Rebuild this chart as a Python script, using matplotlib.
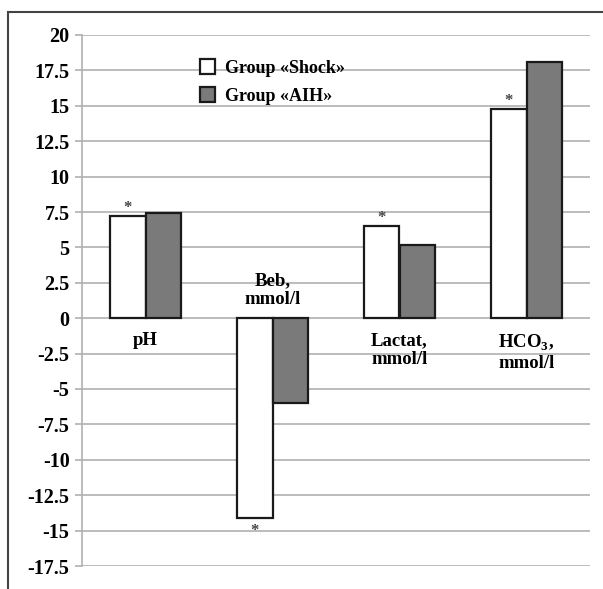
import numpy as np
import matplotlib.pyplot as plt
from matplotlib.patches import Rectangle

categories = ['pH', 'Beb,\nmmol/l', 'Lactat,\nmmol/l', 'HCO$_3$,\nmmol/l']
shock = [7.2, -14.1, 6.5, 14.8]
aih = [7.4, -6.0, 5.2, 18.1]
signif = [True, True, True, True]
yticks = np.arange(-17.5, 20.1, 2.5)

plt.rcParams['font.family'] = ['Liberation Serif', 'DejaVu Serif']
plt.rcParams['font.weight'] = 'bold'
plt.rcParams['mathtext.fontset'] = 'custom'
plt.rcParams['mathtext.rm'] = 'Liberation Serif:bold'

fig = plt.figure(figsize=(6.03, 5.89), dpi=100)
ax = fig.add_axes([82 / 603, 1 - 566 / 589, 508 / 603, 531 / 589])

# outer frame (cropped at right/bottom like the scan)
fig.patches.append(Rectangle((8 / 603, -0.1), 1.2, 1 - 12 / 589 + 0.1,
                             transform=fig.transFigure, fill=False,
                             edgecolor='#444444', linewidth=1.5))

x = np.arange(len(categories))
w = 0.278
ax.bar(x - w / 2, shock, w, color='white', edgecolor='#1a1a1a', linewidth=1.6,
       label='Group «Shock»', zorder=3)
ax.bar(x + w / 2, aih, w, color='#7a7a7a', edgecolor='#1a1a1a', linewidth=1.6,
       label='Group «AIH»', zorder=3)

# asterisks
for i, v in enumerate(shock):
    if signif[i]:
        off = 0.55 if v > 0 else -0.95
        ax.text(x[i] - w / 2, v + off, '*', ha='center', va='center',
                fontsize=12, color='#444444')

# category labels near zero line
for i, lab in enumerate(categories):
    if shock[i] > 0:
        ax.text(x[i], -1.0, lab, ha='center', va='top', fontsize=13.5,
                linespacing=1.15)
    else:
        ax.text(x[i], 0.7, lab, ha='center', va='bottom', fontsize=13.5,
                linespacing=1.15)

ax.set_xlim(-0.5, 3.5)
ax.set_ylim(-17.5, 20)
ax.set_yticks(yticks)
ax.set_yticklabels([f'{t:g}' for t in yticks], fontsize=14.5)
ax.set_xticks([])
ax.yaxis.grid(True, color='#b0b0b0', linewidth=1.2, zorder=0)
ax.tick_params(axis='y', length=5, color='#b0b0b0', width=1.2, pad=4)
for s in ['top', 'right', 'bottom']:
    ax.spines[s].set_visible(False)
ax.spines['left'].set_color('#b0b0b0')
ax.spines['left'].set_linewidth(1.2)

ax.legend(loc='upper left', bbox_to_anchor=(0.2, 0.985), frameon=False,
          fontsize=13, handlelength=0.85, handleheight=0.85, labelspacing=0.6,
          handletextpad=0.55)

fig.savefig('out.png', dpi=100)
